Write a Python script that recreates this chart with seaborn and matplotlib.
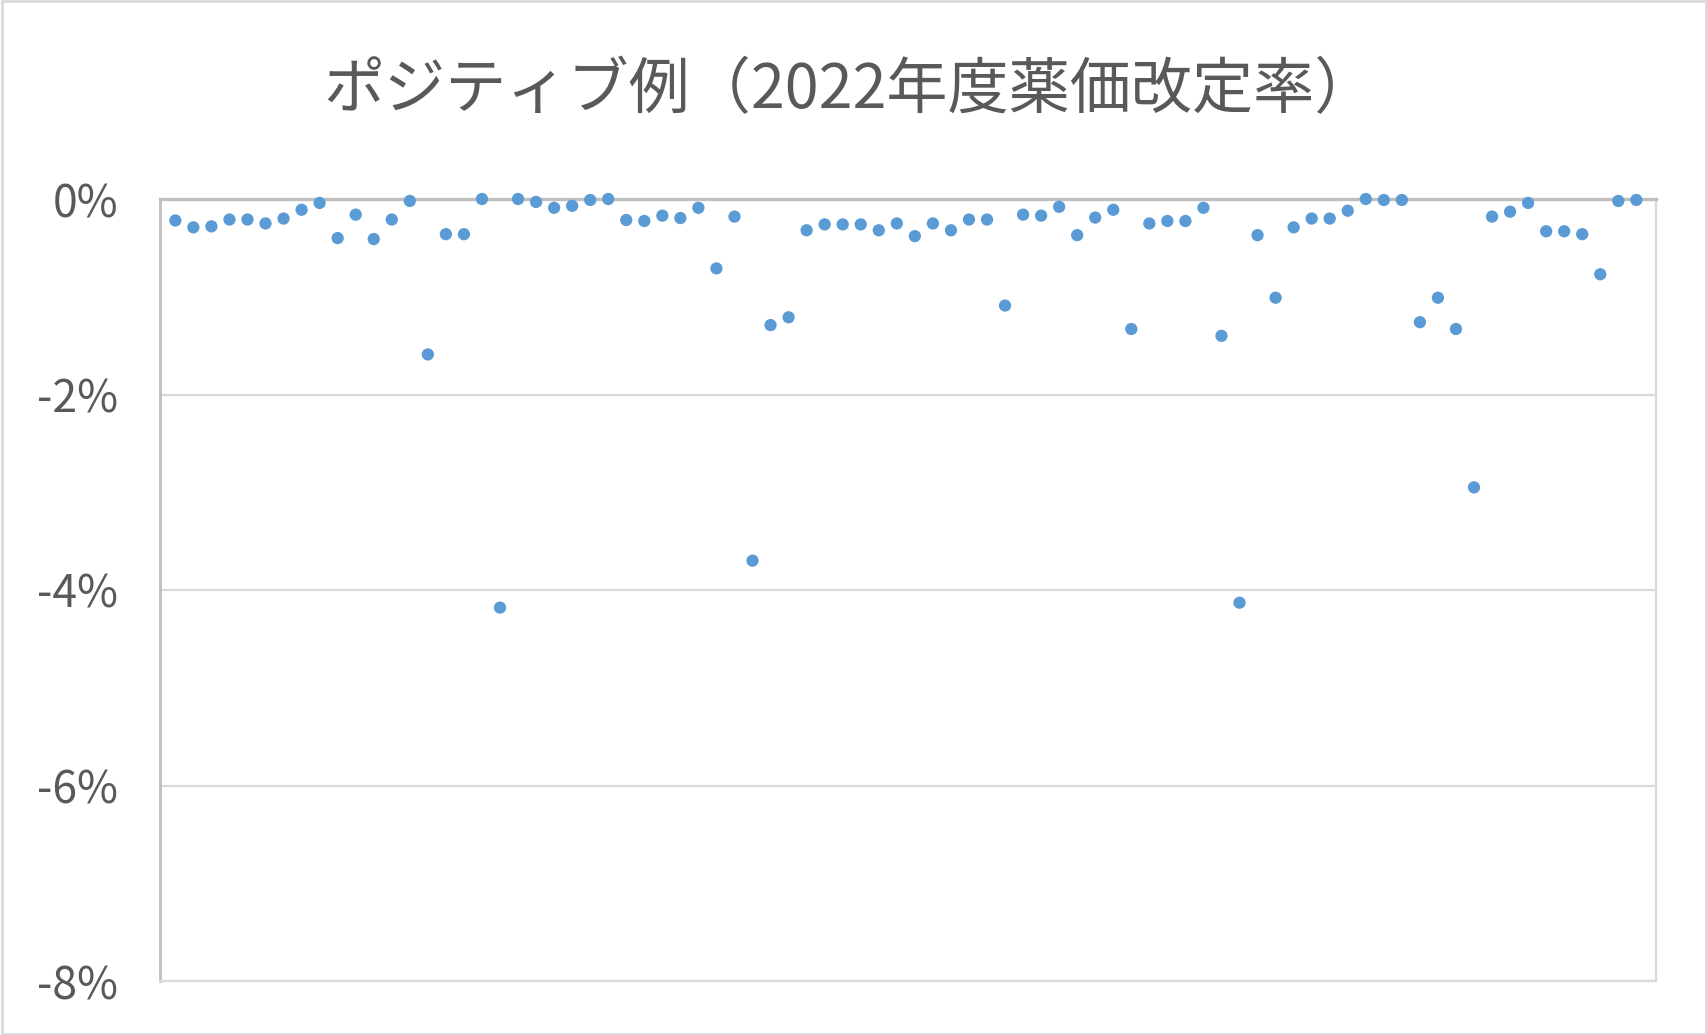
import matplotlib
matplotlib.use("Agg")
import matplotlib.pyplot as plt
import seaborn as sns
import pandas as pd
from matplotlib.patches import Rectangle
from matplotlib.ticker import FuncFormatter

title = "ポジティブ例（2022年度薬価改定率）"
item_no = list(range(1, 83))
rate_pct = [
    -0.22, -0.29, -0.28, -0.21, -0.21, -0.25, -0.20, -0.11, -0.04, -0.40,
    -0.16, -0.41, -0.21, -0.02, -1.59, -0.36, -0.36, 0.00, -4.18, 0.00,
    -0.03, -0.09, -0.07, -0.01, 0.00, -0.215, -0.225, -0.17, -0.195, -0.09,
    -0.71, -0.18, -3.70, -1.29, -1.21, -0.32, -0.26, -0.26, -0.26, -0.32,
    -0.25, -0.38, -0.25, -0.32, -0.21, -0.21, -1.09, -0.16, -0.17, -0.08,
    -0.37, -0.19, -0.11, -1.33, -0.25, -0.225, -0.225, -0.09, -1.40, -4.13,
    -0.37, -1.01, -0.29, -0.20, -0.20, -0.12, 0.00, -0.01, -0.01, -1.26,
    -1.01, -1.33, -2.95, -0.18, -0.13, -0.04, -0.33, -0.33, -0.36, -0.77,
    -0.02, -0.01,
]
y_ticks = [0, -2, -4, -6, -8]

df = pd.DataFrame({"item": item_no, "rate": rate_pct})

sns.set_theme(style="white")
plt.rcParams["font.family"] = ["Noto Sans CJK JP", "DejaVu Sans"]

W, H = 1708, 1035
fig = plt.figure(figsize=(W / 100, H / 100), dpi=100)
ax = fig.add_axes([160 / W, 1 - 981 / H, (1656 - 160) / W, (981 - 199) / H])

sns.scatterplot(data=df, x="item", y="rate", ax=ax, color="#5B9BD5",
                s=78, edgecolor="none", clip_on=False, zorder=5, legend=False)

ax.set_xlim(0.15, 83.09)
ax.set_ylim(-8, 0)
ax.set_yticks(y_ticks)
ax.yaxis.set_major_formatter(FuncFormatter(lambda v, p: f"{v:.0f}%"))
ax.set_xticks([])
ax.set_xlabel("")
ax.set_ylabel("")
ax.tick_params(axis="y", length=0, pad=30, labelsize=32, labelcolor="#595959")

for v in [-2, -4, -6, -8]:
    ax.axhline(v, color="#D9D9D9", lw=1.6, zorder=1)

for side in ["left", "right", "bottom", "top"]:
    ax.spines[side].set_visible(True)
ax.spines["top"].set_color("#BFBFBF")
ax.spines["top"].set_linewidth(2.4)
ax.spines["left"].set_color("#BFBFBF")
ax.spines["left"].set_linewidth(2.0)
ax.spines["right"].set_color("#D9D9D9")
ax.spines["right"].set_linewidth(1.6)
ax.spines["bottom"].set_color("#D9D9D9")
ax.spines["bottom"].set_linewidth(1.6)
ax.spines["top"].set_zorder(3)

fig.text(0.4975, 0.912, title, ha="center", va="center", fontsize=44,
         color="#595959")

fig.patches.append(Rectangle((0.001, 0.001), 0.998, 0.998, transform=fig.transFigure,
                             fill=False, edgecolor="#D9D9D9", lw=2.0))

fig.savefig("out.png", dpi=100, facecolor="white")
